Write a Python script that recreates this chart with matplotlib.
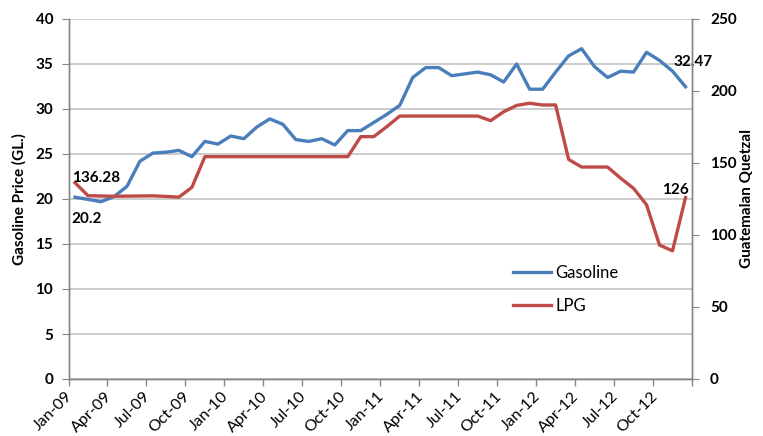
import matplotlib
matplotlib.use("Agg")
import matplotlib.pyplot as plt
import numpy as np

plt.rcParams['font.family'] = ['Lato', 'DejaVu Sans']

months = ["Jan-09", "Apr-09", "Jul-09", "Oct-09", "Jan-10", "Apr-10", "Jul-10", "Oct-10",
          "Jan-11", "Apr-11", "Jul-11", "Oct-11", "Jan-12", "Apr-12", "Jul-12", "Oct-12"]

gasoline = [20.2, 19.96, 19.7, 20.26, 21.4, 24.2, 25.1, 25.2, 25.4, 24.7, 26.4, 26.1,
            27.0, 26.7, 28.0, 28.9, 28.3, 26.6, 26.4, 26.7, 26.0, 27.6, 27.6, 28.5,
            29.4, 30.4, 33.5, 34.6, 34.6, 33.7, 33.9, 34.1, 33.8, 33.0, 35.0, 32.2,
            32.2, 34.1, 35.9, 36.7, 34.7, 33.5, 34.2, 34.1, 36.3, 35.4, 34.2, 32.47]

lpg = [136.28, 127.3, 127.1, 126.9, 127.0, 127.1, 127.2, 126.8, 126.3, 133.1, 154.4, 154.4,
       154.4, 154.4, 154.4, 154.4, 154.4, 154.4, 154.4, 154.4, 154.4, 154.4, 168.3, 168.3,
       175.2, 182.6, 182.6, 182.6, 182.6, 182.6, 182.6, 182.6, 179.4, 185.6, 190.0, 191.5,
       190.3, 190.3, 152.5, 147.2, 147.2, 147.2, 139.5, 132.4, 121.0, 93.0, 89.0, 126.0]

blue = "#4A7EBB"
red = "#BE4B48"
grid_c = "#BFBFBF"
axis_c = "#868686"

W, H = 763, 436
fig = plt.figure(figsize=(W / 100, H / 100), dpi=100)
ax = fig.add_axes([68.5 / W, 1 - 379 / H, (692 - 68.5) / W, (379 - 19) / H])
ax2 = ax.twinx()

x = np.arange(len(gasoline))
l1, = ax.plot(x, gasoline, color=blue, lw=2.4, solid_joinstyle='round', label="Gasoline")
l2, = ax2.plot(x, lpg, color=red, lw=2.4, solid_joinstyle='round', label="LPG")

ax.set_xlim(-0.5, len(gasoline) - 0.5)
ax.set_ylim(0, 40)
ax2.set_ylim(0, 250)
ax.set_yticks(np.arange(0, 41, 5))
ax2.set_yticks(np.arange(0, 251, 50))

ax.yaxis.grid(True, color=grid_c, lw=1.1)
ax.set_axisbelow(True)

bounds = np.arange(-0.5, len(gasoline), 3)
ax.set_xticks(bounds[:len(months)] + 0.15, minor=True)
ax.set_xticklabels(months, minor=True, rotation=45, ha='right', va='center',
                   rotation_mode='anchor', fontsize=11.5)
ax.set_xticks(bounds)
ax.set_xticklabels([])
ax.tick_params(axis='x', which='minor', length=0, pad=11)
ax.tick_params(axis='x', which='major', length=5, color=axis_c, width=1)

for a in (ax, ax2):
    for s in a.spines.values():
        s.set_color(axis_c)
        s.set_linewidth(1)
    a.spines['top'].set_visible(False)

ax.tick_params(axis='y', length=5, color=axis_c, labelsize=11, pad=6)
ax2.tick_params(axis='y', length=5, color=axis_c, labelsize=11, pad=8)
for t in ax.get_yticklabels() + ax2.get_yticklabels():
    t.set_fontweight('bold')

ax.set_ylabel("Gasoline Price (GL.)", fontsize=11, fontweight='bold', labelpad=6)
ax2.set_ylabel("Guatemalan Quetzal", fontsize=11, fontweight='bold', labelpad=2)

ann = dict(fontsize=11, fontweight='bold', textcoords='offset points', va='center')
ax2.annotate("136.28", (0, lpg[0]), xytext=(-2.4, 3.6), ha='left', **ann)
ax.annotate("20.2", (0, gasoline[0]), xytext=(-2.4, -15.8), ha='left', **ann)
ax.annotate("32.47", (len(gasoline) - 1, gasoline[-1]), xytext=(-8.4, 18), ha='left', **ann)
ax2.annotate("126", (len(lpg) - 1, lpg[-1]), xytext=(2.4, 5.6), ha='right', **ann)

fig.legend([l1, l2], ["Gasoline", "LPG"], loc='upper left',
           bbox_to_anchor=(513 / W, 1 - 265 / H), frameon=False, fontsize=12,
           handlelength=2.3, handletextpad=0.25, labelspacing=1.0, borderpad=0,
           borderaxespad=0)

fig.savefig("out.png", dpi=100)
